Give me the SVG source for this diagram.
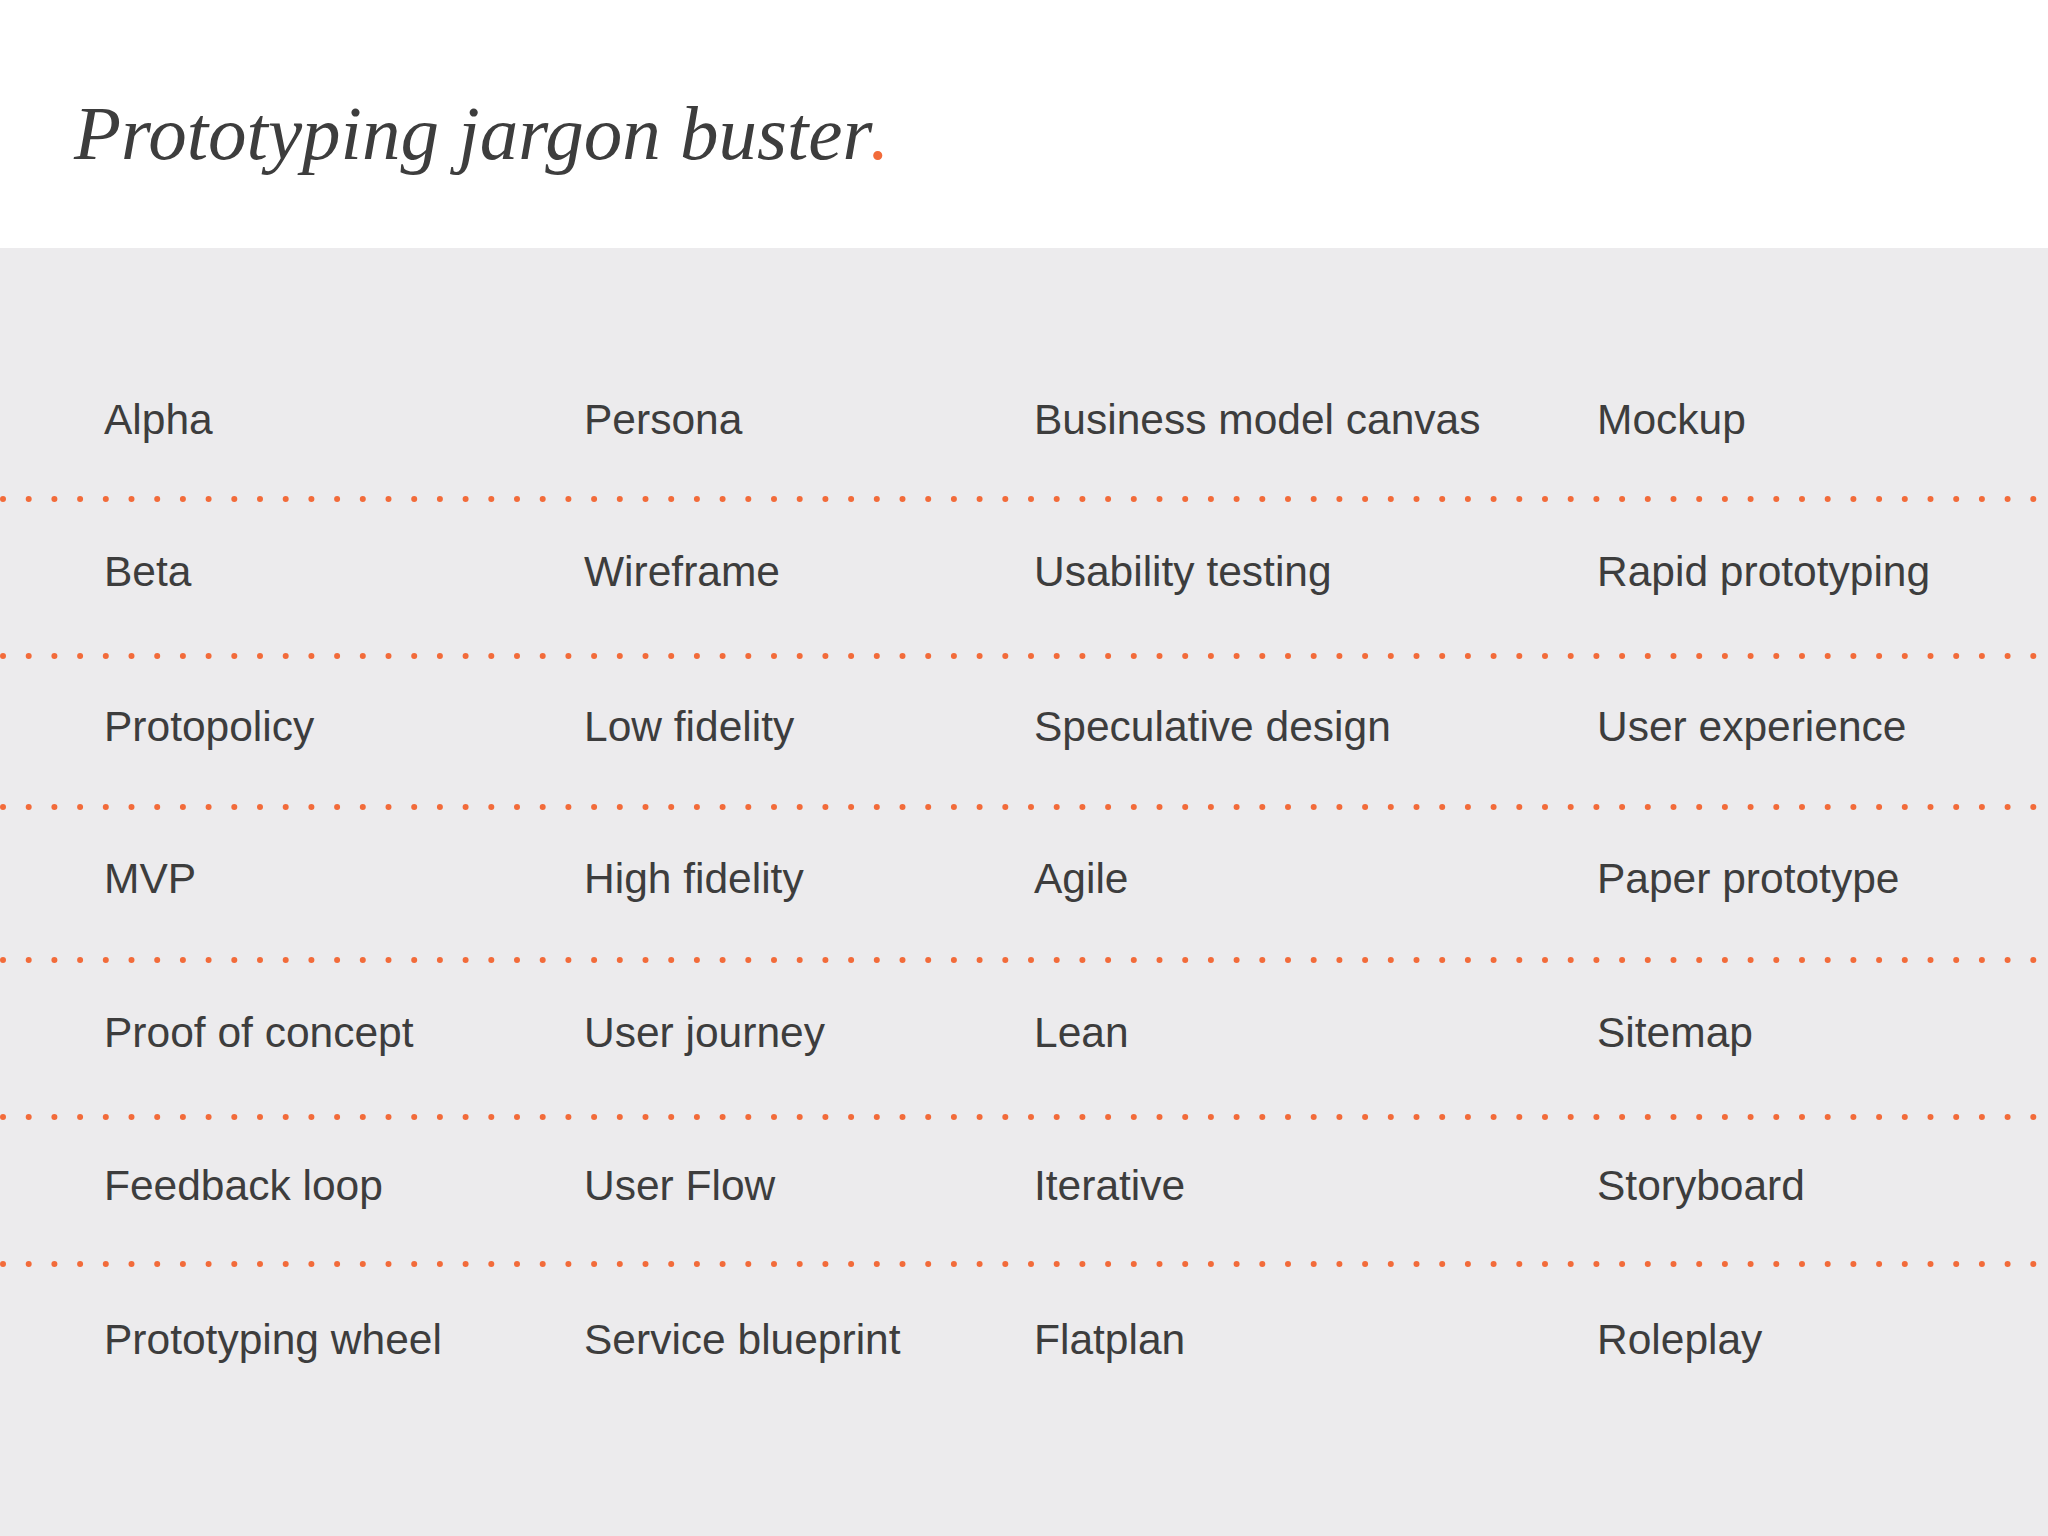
<svg xmlns="http://www.w3.org/2000/svg" width="2048" height="1536" viewBox="0 0 2048 1536">
<style>
.t{font-family:"Liberation Sans",Arial,sans-serif;font-size:42.5px;fill:#3d3d3d}
.d{stroke:#f26b3a;stroke-width:6;stroke-linecap:round;stroke-dasharray:0 25.7}
</style>
<rect width="2048" height="1536" fill="#ffffff"/>
<rect y="248" width="2048" height="1288" fill="#ecebed"/>
<g id="title"><text x="74" y="159" font-family="'Liberation Serif',Georgia,serif" font-style="italic" font-size="77" fill="#3d3d3d">Prototyping jargon buster<tspan dx="6" fill="#f26b3a">.</tspan></text></g>
<g id="connectors">
<line class="d" x1="3" y1="499" x2="2040" y2="499"/>
<line class="d" x1="3" y1="656" x2="2040" y2="656"/>
<line class="d" x1="3" y1="807" x2="2040" y2="807"/>
<line class="d" x1="3" y1="960" x2="2040" y2="960"/>
<line class="d" x1="3" y1="1117" x2="2040" y2="1117"/>
<line class="d" x1="3" y1="1264" x2="2040" y2="1264"/>
</g>
<g id="col1" class="t">
<text x="104" y="434">Alpha</text><text x="104" y="586">Beta</text><text x="104" y="741">Protopolicy</text><text x="104" y="893">MVP</text><text x="104" y="1047">Proof of concept</text><text x="104" y="1200">Feedback loop</text><text x="104" y="1354">Prototyping wheel</text>
</g>
<g id="col2" class="t">
<text x="584" y="434">Persona</text><text x="584" y="586">Wireframe</text><text x="584" y="741">Low fidelity</text><text x="584" y="893">High fidelity</text><text x="584" y="1047">User journey</text><text x="584" y="1200">User Flow</text><text x="584" y="1354">Service blueprint</text>
</g>
<g id="col3" class="t">
<text x="1034" y="434">Business model canvas</text><text x="1034" y="586">Usability testing</text><text x="1034" y="741">Speculative design</text><text x="1034" y="893">Agile</text><text x="1034" y="1047">Lean</text><text x="1034" y="1200">Iterative</text><text x="1034" y="1354">Flatplan</text>
</g>
<g id="col4" class="t">
<text x="1597" y="434">Mockup</text><text x="1597" y="586">Rapid prototyping</text><text x="1597" y="741">User experience</text><text x="1597" y="893">Paper prototype</text><text x="1597" y="1047">Sitemap</text><text x="1597" y="1200">Storyboard</text><text x="1597" y="1354">Roleplay</text>
</g>
</svg>
